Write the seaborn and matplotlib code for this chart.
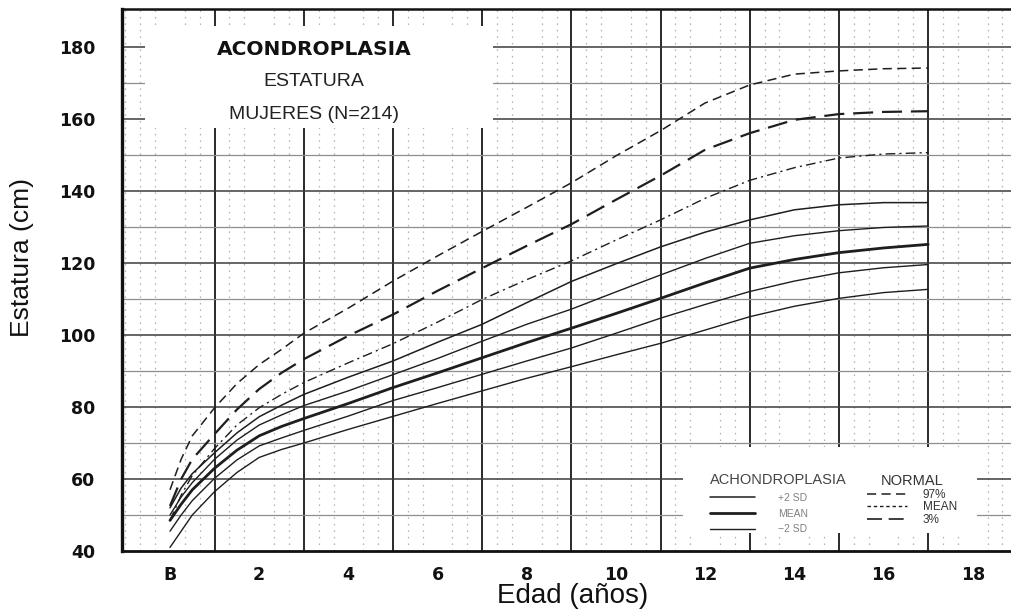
import matplotlib
matplotlib.use("Agg")
import matplotlib.pyplot as plt
from matplotlib.lines import Line2D
from matplotlib.patches import Rectangle
from matplotlib.ticker import MultipleLocator, FixedLocator
import seaborn as sns

# ---------------- data ----------------
ages = [0, 0.25, 0.5, 1, 1.5, 2, 2.5, 3, 4, 5, 6, 7, 8, 9, 10, 11, 12, 13, 14, 15, 16, 17]

normal_p97 = [57, 65.5, 72, 79.8, 86.5, 91.8, 96, 100.5, 107.5, 115, 122, 128.8, 135.5,
              142.3, 149.8, 156.8, 164.5, 169.5, 172.5, 173.4, 174, 174.2]
normal_mean = [52.5, 60, 65.5, 72.5, 79.3, 85, 89.5, 93.3, 99.8, 105.7, 112.3, 118.6, 124.8,
               130.8, 137.6, 144.3, 151.5, 156.1, 159.8, 161.4, 162, 162.2]
normal_p3 = [48.5, 55.5, 61, 68.5, 75, 79.8, 83.5, 86.8, 92.3, 97.6, 103.6, 109.9, 115.4,
             120.6, 126.4, 132, 138, 143, 146.5, 149.2, 150.3, 150.7]

achon_p2sd = [52, 57.5, 61.5, 67.3, 72.8, 77.3, 80.5, 83.5, 88.3, 92.8, 98, 103, 109,
              114.9, 119.8, 124.5, 128.6, 132, 134.8, 136.2, 136.8, 136.8]
achon_p1sd = [50, 55, 59, 65.5, 70.8, 75, 77.8, 80.4, 84.5, 89, 93.5, 98.3, 103,
              107.2, 112, 116.7, 121.3, 125.5, 127.6, 129, 129.9, 130.3]
achon_mean = [48.5, 53, 57, 63, 68, 72, 74.6, 76.8, 81, 85.4, 89.5, 93.7, 97.9,
              101.9, 106, 110.2, 114.5, 118.6, 121, 122.9, 124.2, 125.2]
achon_m1sd = [45.5, 50, 54, 60.2, 65.3, 69.2, 71.4, 73.5, 77.5, 81.8, 85.4, 89.1, 92.8,
              96.4, 100.5, 104.7, 108.5, 112.1, 115, 117.3, 118.7, 119.6]
achon_m2sd = [41, 45.5, 50, 56.5, 61.8, 66, 68.2, 70, 73.8, 77.4, 81, 84.5, 88,
              91.2, 94.5, 97.7, 101.4, 105.1, 108, 110.2, 111.8, 112.7]

x_ticks = list(range(0, 19))
x_ticklabels = ["B", "", "2", "", "4", "", "6", "", "8", "", "10", "", "12", "", "14", "", "16", "", "18"]
y_ticks = [40, 60, 80, 100, 120, 140, 160, 180]
y_ticklabels = ["40", "60", "80", "100", "120", "140", "160", "180"]

title_lines = ["ACONDROPLASIA", "ESTATURA", "MUJERES (N=214)"]
ach_labels = ["+2 SD", "MEAN", "\u22122 SD"]
normal_labels = ["97%", "MEAN", "3%"]

# ---------------- figure ----------------
sns.set_style("white")
plt.rcParams['font.family'] = ['Liberation Sans', 'DejaVu Sans']

fig = plt.figure(figsize=(10.12, 6.16), dpi=100)
ax = fig.add_axes([122 / 1012, 65 / 616, 890 / 1012, 542 / 616])
ax.set_xlim(-1.076, 18.88)
ax.set_ylim(40, 190.6)

# minor dotted lattice (vertical dotted lines every 4 months, dots every 2 cm)
ax.xaxis.set_minor_locator(MultipleLocator(1 / 3))
ax.yaxis.set_minor_locator(MultipleLocator(2))
ax.grid(which='minor', axis='x', color='#b4b4b4', linestyle=(0, (1.3, 3.9)), linewidth=0.9)
ax.grid(which='major', visible=False)
ax.set_axisbelow(True)

# major grid lines
odd_years = list(range(1, 19, 2))
ax.vlines(odd_years, 40, 190.6, colors='#2a2a2a', linewidth=1.4, zorder=1)
ax.hlines(list(range(60, 190, 20)), -1.1, 19, colors='#3c3c3c', linewidth=1.1, zorder=1)
ax.hlines(list(range(50, 190, 20)), -1.1, 19, colors='#8e8e8e', linewidth=0.9, zorder=1)

# white boxes for title and legend
ax.add_patch(Rectangle((-0.56, 157.5), 7.8, 28.5, facecolor='white', edgecolor='none', zorder=1.5))
ax.add_patch(Rectangle((11.5, 45.0), 6.6, 23.8, facecolor='white', edgecolor='none', zorder=1.5))

ink = '#1e1e1e'
# normal curves
sns.lineplot(x=ages, y=normal_p97, ax=ax, color=ink, linewidth=1.1, linestyle=(0, (6, 3.5)), zorder=3)
sns.lineplot(x=ages, y=normal_mean, ax=ax, color=ink, linewidth=1.6, linestyle=(0, (9, 4)), zorder=3)
sns.lineplot(x=ages, y=normal_p3, ax=ax, color=ink, linewidth=1.0, linestyle=(0, (7, 3, 1.5, 3)), zorder=3)
# achondroplasia curves
sns.lineplot(x=ages, y=achon_p2sd, ax=ax, color=ink, linewidth=1.1, zorder=3)
sns.lineplot(x=ages, y=achon_p1sd, ax=ax, color=ink, linewidth=1.0, zorder=3)
sns.lineplot(x=ages, y=achon_mean, ax=ax, color=ink, linewidth=2.0, zorder=3)
sns.lineplot(x=ages, y=achon_m1sd, ax=ax, color=ink, linewidth=1.0, zorder=3)
sns.lineplot(x=ages, y=achon_m2sd, ax=ax, color=ink, linewidth=1.0, zorder=3)

# spines
for s in ['left', 'bottom', 'top']:
    ax.spines[s].set_color('#111111')
ax.spines['left'].set_linewidth(2.4)
ax.spines['bottom'].set_linewidth(2.0)
ax.spines['top'].set_linewidth(1.8)
ax.spines['right'].set_visible(False)

# ticks
ax.xaxis.set_major_locator(FixedLocator(x_ticks))
ax.set_xticklabels(x_ticklabels)
ax.yaxis.set_major_locator(FixedLocator(y_ticks))
ax.set_yticklabels(y_ticklabels)
ax.tick_params(axis='x', which='major', direction='out', length=9, width=2.0, color='#111111',
               pad=2, labelsize=12.5, labelcolor='#111111')
ax.tick_params(axis='y', which='major', direction='out', length=10, width=1.6, color='#111111',
               pad=9, labelsize=12.5, labelcolor='#111111')
ax.tick_params(which='minor', length=0)
for lab in ax.get_xticklabels() + ax.get_yticklabels():
    lab.set_fontfamily(['DejaVu Sans'])
    lab.set_fontweight('bold')

# axis labels
fig.text(22 / 1012, 1 - 258 / 616, "Estatura (cm)", rotation=90, ha='center', va='center',
         fontsize=19, color='#111111')
fig.text(573 / 1012, 1 - 596 / 616, "Edad (años)", ha='center', va='center',
         fontsize=20, color='#111111')

# title block
ax.text(3.23, 179.4, title_lines[0], ha='center', va='center', fontsize=14.5, fontweight='bold',
        color='#111111', zorder=4, family=['DejaVu Sans'])
ax.text(3.23, 170.4, title_lines[1], ha='center', va='center', fontsize=14, color='#222222', zorder=4)
ax.text(3.23, 161.4, title_lines[2], ha='center', va='center', fontsize=14, color='#222222', zorder=4)

# legends
h_ach = [Line2D([], [], color=ink, lw=1.1),
         Line2D([], [], color=ink, lw=2.0),
         Line2D([], [], color=ink, lw=1.0)]
leg1 = ax.legend(h_ach, ach_labels, title="ACHONDROPLASIA",
                 loc='upper left', bbox_to_anchor=(0.652, 0.157), frameon=False,
                 fontsize=7.5, title_fontsize=10.5, handlelength=4.4, labelspacing=0.55,
                 handletextpad=2.2, borderpad=0.2)
for t in leg1.get_texts():
    t.set_color('#808080')
leg1.get_title().set_color('#444444')
leg1._legend_box.align = "left"
ax.add_artist(leg1)

h_norm = [Line2D([], [], color=ink, lw=1.1, linestyle=(0, (6, 3.5))),
          Line2D([], [], color=ink, lw=1.0, linestyle=(0, (2.5, 2))),
          Line2D([], [], color=ink, lw=1.2, linestyle=(0, (9, 4)))]
leg2 = ax.legend(h_norm, normal_labels, title="NORMAL",
                 loc='upper left', bbox_to_anchor=(0.828, 0.157), frameon=False,
                 fontsize=8.5, title_fontsize=10.5, handlelength=3.4, labelspacing=0.05,
                 handletextpad=1.3, borderpad=0.2)
for t in leg2.get_texts():
    t.set_color('#333333')
leg2.get_title().set_color('#333333')

fig.savefig("out.png", dpi=100, facecolor='white')
